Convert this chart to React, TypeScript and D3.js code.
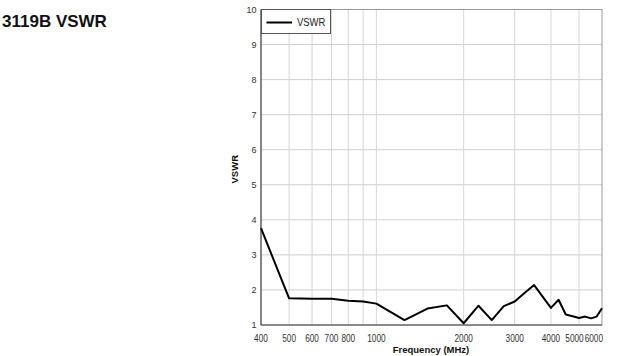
import React from "react";
import * as d3 from "d3";

const freqs = [400, 500, 600, 700, 800, 900, 1000, 1250, 1500, 1750, 2000, 2250, 2500, 2750, 3000, 3250, 3500, 4000, 4250, 4500, 4750, 5000, 5250, 5500, 5750, 6000];
const vswr = [3.76, 1.76, 1.75, 1.75, 1.69, 1.67, 1.61, 1.14, 1.47, 1.56, 1.05, 1.55, 1.14, 1.54, 1.67, 1.92, 2.14, 1.49, 1.72, 1.3, 1.25, 1.2, 1.24, 1.19, 1.24, 1.48];
const xGrid = [500, 600, 700, 800, 900, 1000, 2000, 3000, 4000, 5000];
const xTickLabels = [400, 500, 600, 700, 800, 1000, 2000, 3000, 4000, 5000, 6000];
const yTicks = [1, 2, 3, 4, 5, 6, 7, 8, 9, 10];
const title = "3119B VSWR";
const seriesName = "VSWR";
const xTitle = "Frequency (MHz)";
const yTitle = "VSWR";

export default function App() {
  const W = 621, H = 356;
  const left = 261, right = 602, top = 9.5, bottom = 325;
  const x = d3.scaleLog().domain([400, 6000]).range([left, right]);
  const y = d3.scaleLinear().domain([1, 10]).range([bottom, top]);
  const line = d3.line<number>().x((_, i) => x(freqs[i])).y((d) => y(d));
  const font = "'Liberation Sans', Arial, sans-serif";
  const sx = 0.75;
  const fs = 11;
  const digitW = fs * 0.556 * sx;
  // label centers, shifted to avoid overlap / overflow past right edge
  const centers = xTickLabels.map((t) => x(t));
  const widths = xTickLabels.map((t) => String(t).length * digitW);
  for (let i = centers.length - 1; i >= 0; i--) {
    const limit = i === centers.length - 1 ? right + 1 : centers[i + 1] - widths[i + 1] / 2 - 1;
    if (centers[i] + widths[i] / 2 > limit) centers[i] = limit - widths[i] / 2;
  }
  return (
    <svg width={W} height={H} style={{ position: "absolute", left: 0, top: 0, background: "#fff" }} fontFamily={font}>
      <text x={2} y={27} fontSize={17} fontWeight="bold" fill="#111">{title}</text>
      {yTicks.map((t) => (
        <line key={"hy" + t} x1={left} x2={right} y1={y(t)} y2={y(t)} stroke="#cfcfcf" strokeWidth={1} />
      ))}
      {xGrid.map((t) => (
        <line key={"gx" + t} x1={x(t)} x2={x(t)} y1={top} y2={bottom} stroke="#d6d6d6" strokeWidth={1} />
      ))}
      <rect x={left} y={top} width={right - left} height={bottom - top} fill="none" stroke="#999" strokeWidth={1} />
      <line x1={left} x2={left} y1={top} y2={bottom} stroke="#555" strokeWidth={1.2} />
      <line x1={left} x2={right} y1={bottom} y2={bottom} stroke="#555" strokeWidth={1.2} />
      {yTicks.map((t) => (
        <text key={"ty" + t} x={256.5} y={y(t) + 3.4} fontSize={9} textAnchor="end" fill="#333">{t}</text>
      ))}
      {xTickLabels.map((t, i) => (
        <text key={"tx" + t} transform={`translate(${centers[i]},341.6) scale(${sx},1)`} fontSize={fs} textAnchor="middle" fill="#333">{t}</text>
      ))}
      <text x={431} y={353} fontSize={9.5} fontWeight="bold" textAnchor="middle" fill="#111">{xTitle}</text>
      <text transform={`translate(238,${(top + bottom) / 2 + 2}) rotate(-90)`} fontSize={9.5} fontWeight="bold" textAnchor="middle" fill="#111">{yTitle}</text>
      <path d={line(vswr) || ""} fill="none" stroke="#000" strokeWidth={2} strokeLinejoin="round" />
      <rect x={left + 0.5} y={top} width={69} height={24} fill="#fff" stroke="#555" strokeWidth={1} />
      <line x1={266.5} x2={292} y1={22.5} y2={22.5} stroke="#000" strokeWidth={2} />
      <text transform={`translate(297,26) scale(0.9,1)`} fontSize={10.5} fill="#222">{seriesName}</text>
    </svg>
  );
}
